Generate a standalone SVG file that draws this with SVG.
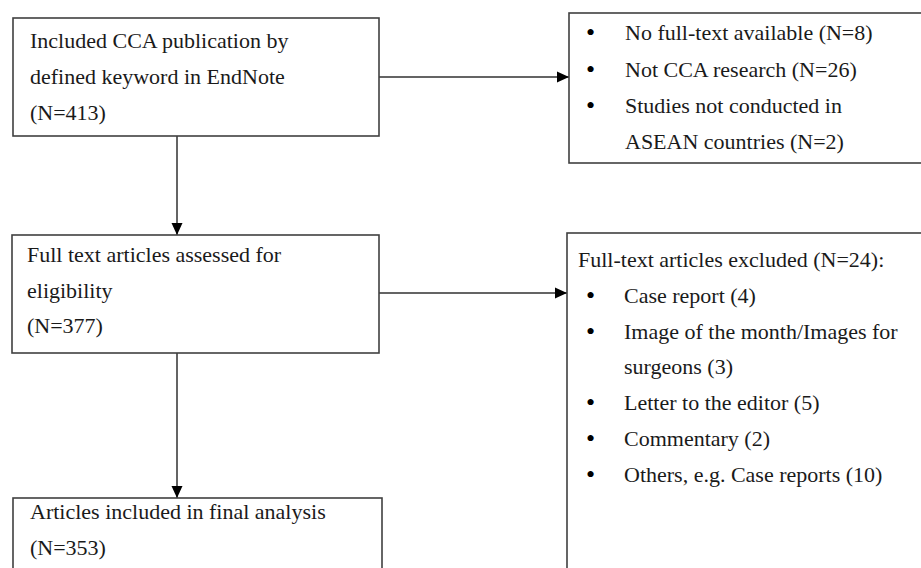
<svg xmlns="http://www.w3.org/2000/svg" width="921" height="568" viewBox="0 0 921 568">
<style>
.box{fill:#fff;stroke:#404040;stroke-width:1.6}
.t{font-family:"Liberation Serif","Times New Roman",serif;font-size:22px;fill:#1a1a1a}
.b{font-family:"Liberation Serif","Times New Roman",serif;font-size:26px;fill:#000}
.c{stroke:#303030;stroke-width:1.5;fill:none}
</style>
<defs>
<marker id="ah" markerWidth="13" markerHeight="13" refX="12" refY="6.5" orient="auto" markerUnits="userSpaceOnUse">
<path d="M0,1 L12,6.5 L0,12 Z" fill="#000"/>
</marker>
</defs>
<rect width="921" height="568" fill="#fff"/>
<g id="connectors">
<line class="c" x1="177" y1="136" x2="177" y2="235" marker-end="url(#ah)"/>
<line class="c" x1="177" y1="353" x2="177" y2="498" marker-end="url(#ah)"/>
<line class="c" x1="379" y1="77" x2="569" y2="77" marker-end="url(#ah)"/>
<line class="c" x1="379" y1="293" x2="567" y2="293" marker-end="url(#ah)"/>
</g>
<g id="n1">
<rect class="box" x="13" y="18" width="366" height="118"/>
<text class="t" x="30" y="48">Included CCA publication by</text>
<text class="t" x="30" y="84">defined keyword in EndNote</text>
<text class="t" x="30" y="120">(N=413)</text>
</g>
<g id="n2">
<rect class="box" x="569" y="13" width="370" height="150"/>
<text class="b" x="586" y="41">•</text>
<text class="t" x="625" y="40">No full-text available (N=8)</text>
<text class="b" x="586" y="78">•</text>
<text class="t" x="625" y="77">Not CCA research (N=26)</text>
<text class="b" x="586" y="114">•</text>
<text class="t" x="625" y="113">Studies not conducted in</text>
<text class="t" x="625" y="149">ASEAN countries (N=2)</text>
</g>
<g id="n3">
<rect class="box" x="12" y="235" width="367" height="118"/>
<text class="t" x="27" y="262">Full text articles assessed for</text>
<text class="t" x="27" y="298">eligibility</text>
<text class="t" x="27" y="333">(N=377)</text>
</g>
<g id="n4">
<rect class="box" x="567" y="233" width="370" height="345"/>
<text class="t" x="578" y="267">Full-text articles excluded (N=24):</text>
<text class="b" x="586" y="304">•</text>
<text class="t" x="624" y="303">Case report (4)</text>
<text class="b" x="586" y="340">•</text>
<text class="t" x="624" y="339">Image of the month/Images for</text>
<text class="t" x="624" y="374">surgeons (3)</text>
<text class="b" x="586" y="411">•</text>
<text class="t" x="624" y="410">Letter to the editor (5)</text>
<text class="b" x="586" y="447">•</text>
<text class="t" x="624" y="446">Commentary (2)</text>
<text class="b" x="586" y="483">•</text>
<text class="t" x="624" y="482">Others, e.g. Case reports (10)</text>
</g>
<g id="n5">
<rect class="box" x="13" y="498" width="369" height="80"/>
<text class="t" x="30" y="519">Articles included in final analysis</text>
<text class="t" x="30" y="555">(N=353)</text>
</g>
</svg>
